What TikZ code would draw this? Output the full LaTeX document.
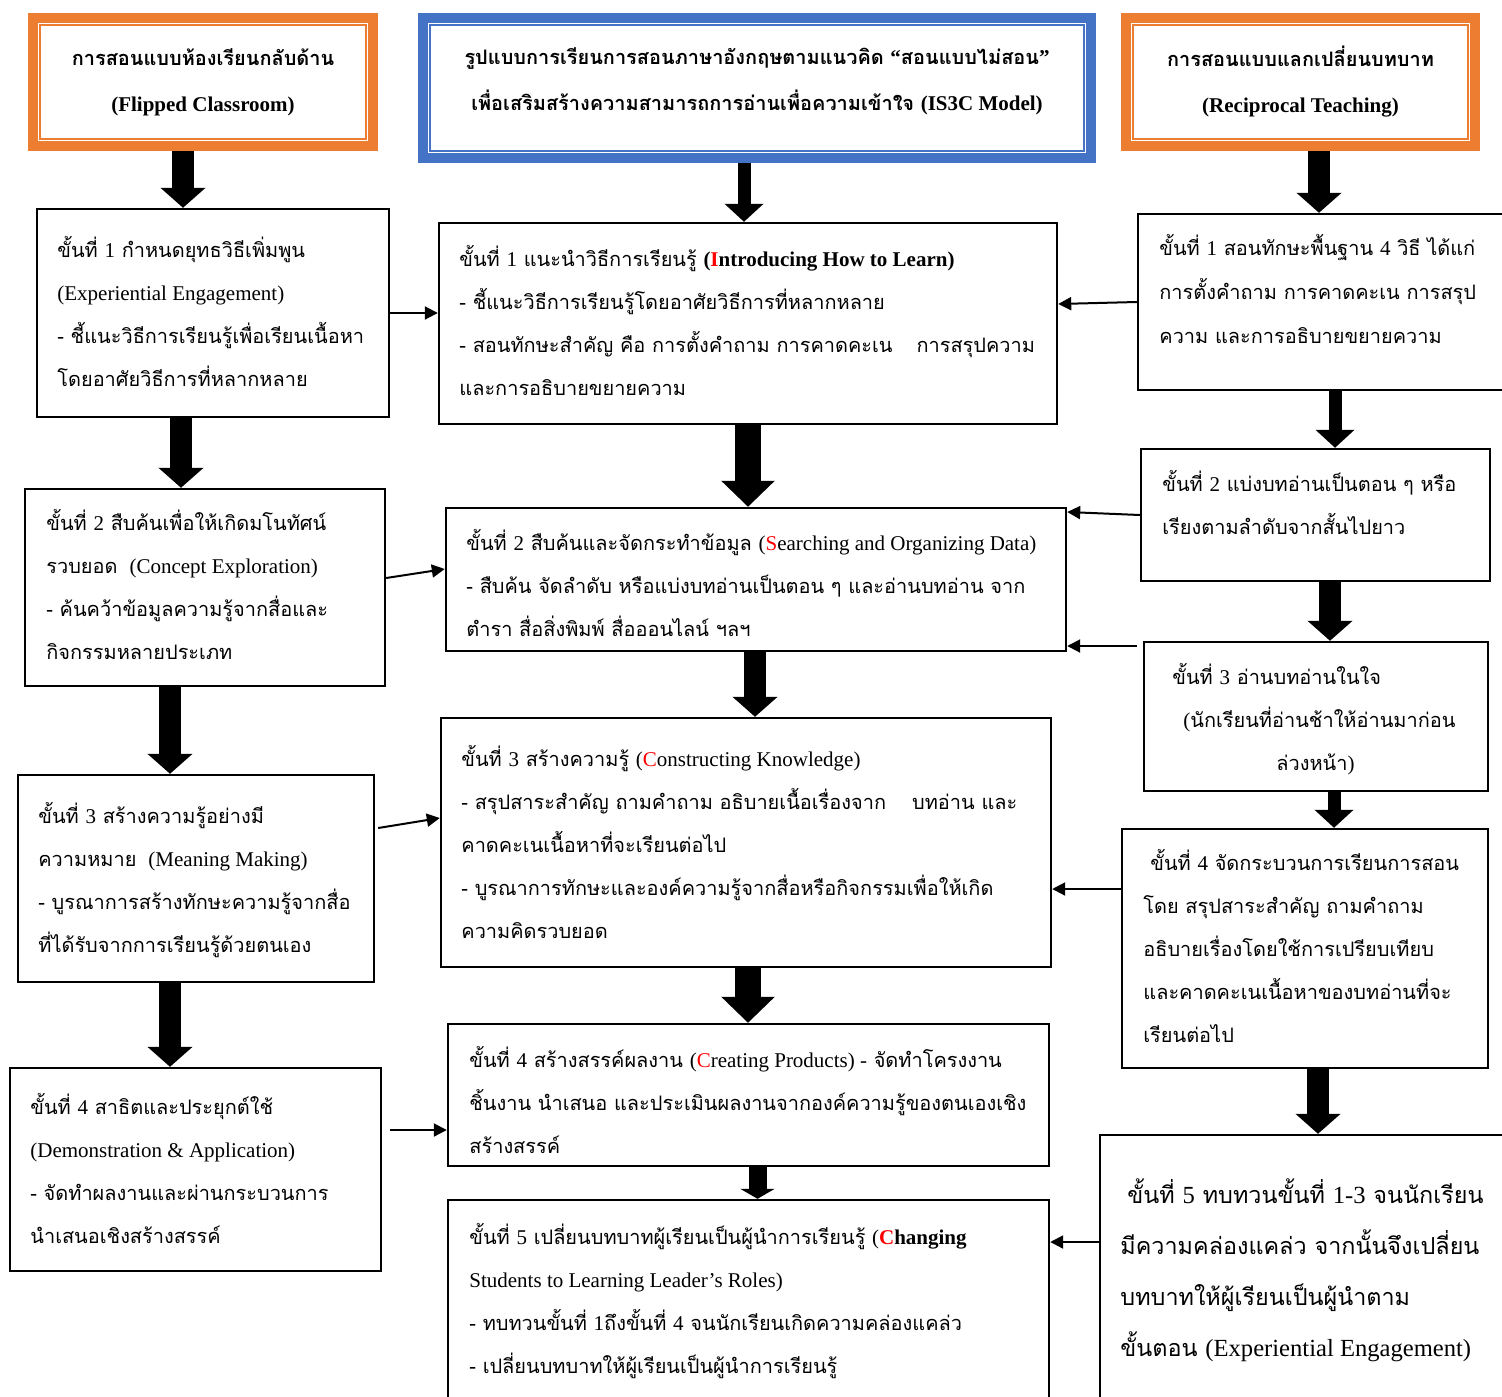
\documentclass[tikz,border=0pt]{standalone}
\usepackage{fontspec}
\setmainfont{Liberation Serif}
\newfontfamily\thaifont[Script=Thai,Scale=0.95]{Loma}
\usetikzlibrary{positioning}
\usetikzlibrary{arrows.meta}
\usepackage{xcolor}
\definecolor{hdorange}{HTML}{ED7D31}
\definecolor{hdblue}{HTML}{4472C4}
\newcommand{\en}[1]{{\rmfamily #1}}
\newcommand{\rd}[1]{\textcolor{red}{#1}}

\begin{document}
\begin{tikzpicture}[x=0.5pt, y=-0.5pt,
  hdbox/.style = {draw=#1, line width=5pt, fill=white, inner sep=0pt, align=center,
    font=\thaifont\bfseries\fontsize{10.5}{23}\selectfont,
    path picture={\draw[#1, line width=1pt] ([shift={(3.5pt,-3.5pt)}]path picture bounding box.north west) rectangle ([shift={(-3.5pt,3.5pt)}]path picture bounding box.south east);}},
  hdtxt/.style = {inner sep=0pt, align=center, font=\thaifont\bfseries\fontsize{10.5}{23}\selectfont},
  box/.style = {draw, line width=1.2pt, fill=white, inner sep=0pt},
  txt/.style = {anchor=base west, inner sep=0pt, align=left, font=\thaifont\fontsize{10.5}{21.5}\selectfont},
  bigtxt/.style = {txt, font=\thaifont\fontsize{12.3}{25.5}\selectfont},
  arr/.style = {line width=1pt, -{Triangle[length=6.5pt, width=6.5pt]}},
  blk/.style = {line width=11pt, -{Triangle[length=10pt, width=22pt]}},
  blkw/.style = {line width=13pt, -{Triangle[length=13pt, width=26pt]}},
  blkn/.style = {line width=6.5pt, -{Triangle[length=9pt, width=19pt]}},
  blks/.style = {line width=9pt, -{Triangle[length=5pt, width=17pt]}}]
\useasboundingbox (0,0) rectangle (1502,1396);

% headers
\node[hdbox=hdorange, minimum width=170pt, minimum height=64pt] (hl) at (203,82) {การสอนแบบห้องเรียนกลับด้าน\\\en{(Flipped Classroom)}};
\node[hdbox=hdblue, minimum width=334pt, minimum height=70pt] (hm) at (757,88) {};
\node[hdtxt] (hmt) at (757,81) {รูปแบบการเรียนการสอนภาษาอังกฤษตามแนวคิด \en{“}สอนแบบไม่สอน\en{”}\\เพื่อเสริมสร้างความสามารถการอ่านเพื่อความเข้าใจ \en{(IS3C Model)}};
\node[hdbox=hdorange, minimum width=174.5pt, minimum height=64pt] (hr) at (1300.5,82) {การสอนแบบแลกเปลี่ยนบทบาท\\\en{(Reciprocal Teaching)}};

% left column
\node[box, minimum width=176pt, minimum height=104pt] (l1) at (213,313) {};
\node[box, minimum width=180pt, minimum height=98.5pt] (l2) at (205,587.5) {};
\node[box, minimum width=178pt, minimum height=103.5pt] (l3) at (196,878.5) {};
\node[box, minimum width=185.5pt, minimum height=101.5pt] (l4) at (195.5,1169.5) {};
\node[txt] (l1t) at (57,386) {ขั้นที่ \en{1} กำหนดยุทธวิธีเพิ่มพูน\\\en{(Experiential Engagement)}\\- ชี้แนะวิธีการเรียนรู้เพื่อเรียนเนื้อหา\\โดยอาศัยวิธีการที่หลากหลาย};
\node[txt] (l2t) at (46,659) {ขั้นที่ \en{2} สืบค้นเพื่อให้เกิดมโนทัศน์\\รวบยอด \en{ (Concept Exploration)}\\- ค้นคว้าข้อมูลความรู้จากสื่อและ\\กิจกรรมหลายประเภท};
\node[txt] (l3t) at (38,952) {ขั้นที่ \en{3} สร้างความรู้อย่างมี\\ความหมาย \en{ (Meaning Making)}\\- บูรณาการสร้างทักษะความรู้จากสื่อ\\ที่ได้รับจากการเรียนรู้ด้วยตนเอง};
\node[txt] (l4t) at (30,1243) {ขั้นที่ \en{4} สาธิตและประยุกต์ใช้\\\en{(Demonstration \& Application)}\\- จัดทำผลงานและผ่านกระบวนการ\\นำเสนอเชิงสร้างสรรค์};

% middle column
\node[box, minimum width=309pt, minimum height=100.5pt] (m1) at (748,323.5) {};
\node[box, minimum width=310pt, minimum height=71.5pt] (m2) at (756,579.5) {};
\node[box, minimum width=305pt, minimum height=124.5pt] (m3) at (746,842.5) {};
\node[box, minimum width=300.5pt, minimum height=71pt] (m4) at (748.5,1095) {};
\node[box, minimum width=300.5pt, minimum height=120pt] (m5) at (748.5,1320) {};
\node[txt] (m1t) at (459,395) {ขั้นที่ \en{1} แนะนำวิธีการเรียนรู้ \en{\bfseries (\rd{I}ntroducing How to Learn)}\\- ชี้แนะวิธีการเรียนรู้โดยอาศัยวิธีการที่หลากหลาย\\- สอนทักษะสำคัญ คือ การตั้งคำถาม การคาดคะเน\hspace{12pt}การสรุปความ\\และการอธิบายขยายความ};
\node[txt] (m2t) at (466,636) {ขั้นที่ \en{2} สืบค้นและจัดกระทำข้อมูล \en{(\rd{S}earching and Organizing Data)}\\- สืบค้น จัดลำดับ หรือแบ่งบทอ่านเป็นตอน ๆ และอ่านบทอ่าน จาก\\ตำรา สื่อสิ่งพิมพ์ สื่อออนไลน์ ฯลฯ};
\node[txt] (m3t) at (461,938) {ขั้นที่ \en{3} สร้างความรู้ \en{(\rd{C}onstructing Knowledge)}\\- สรุปสาระสำคัญ ถามคำถาม อธิบายเนื้อเรื่องจาก\hspace{13pt}บทอ่าน และ\\คาดคะเนเนื้อหาที่จะเรียนต่อไป\\- บูรณาการทักษะและองค์ความรู้จากสื่อหรือกิจกรรมเพื่อให้เกิด\\ความคิดรวบยอด};
\node[txt] (m4t) at (469,1153) {ขั้นที่ \en{4} สร้างสรรค์ผลงาน \en{(\rd{C}reating Products) -} จัดทำโครงงาน\\ชิ้นงาน นำเสนอ และประเมินผลงานจากองค์ความรู้ของตนเองเชิง\\สร้างสรรค์};
\node[txt] (m5t) at (469,1373) {ขั้นที่ \en{5} เปลี่ยนบทบาทผู้เรียนเป็นผู้นำการเรียนรู้ \en{(\textbf{\rd{C}hanging}}\\\en{Students to Learning Leader’s Roles)}\\- ทบทวนขั้นที่ \en{1}ถึงขั้นที่ \en{4} จนนักเรียนเกิดความคล่องแคล่ว\\- เปลี่ยนบทบาทให้ผู้เรียนเป็นผู้นำการเรียนรู้};

% right column
\node[box, minimum width=196pt, minimum height=88pt] (r1) at (1334,302) {};
\node[box, minimum width=174.5pt, minimum height=66pt] (r2) at (1315.5,515) {};
\node[box, minimum width=172pt, minimum height=74.5pt] (r3) at (1316,716.5) {};
\node[box, minimum width=183pt, minimum height=119.5pt] (r4) at (1305,948.5) {};
\node[box, minimum width=220pt, minimum height=152.5pt] (r5) at (1320,1287.5) {};
\node[txt, font=\thaifont\fontsize{10.5}{22}\selectfont] (r1t) at (1159,343) {ขั้นที่ \en{1} สอนทักษะพื้นฐาน \en{4} วิธี ได้แก่\\การตั้งคำถาม การคาดคะเน การสรุป\\ความ และการอธิบายขยายความ};
\node[txt] (r2t) at (1162,534) {ขั้นที่ \en{2} แบ่งบทอ่านเป็นตอน ๆ หรือ\\เรียงตามลำดับจากสั้นไปยาว};
\node[txt] (r3t) at (1172,770) {ขั้นที่ \en{3} อ่านบทอ่านในใจ\\\hspace*{5.5pt}\en{(}นักเรียนที่อ่านช้าให้อ่านมาก่อน\\\hspace*{52pt}ล่วงหน้า\en{)}};
\node[txt] (r4t) at (1143,1042) {\hspace*{3.5pt}ขั้นที่ \en{4} จัดกระบวนการเรียนการสอน\\โดย สรุปสาระสำคัญ ถามคำถาม\\อธิบายเรื่องโดยใช้การเปรียบเทียบ\\และคาดคะเนเนื้อหาของบทอ่านที่จะ\\เรียนต่อไป};
\node[bigtxt] (r5t) at (1120,1356) {\hspace*{3.5pt}ขั้นที่ \en{5} ทบทวนขั้นที่ \en{1-3} จนนักเรียน\\มีความคล่องแคล่ว จากนั้นจึงเปลี่ยน\\บทบาทให้ผู้เรียนเป็นผู้นำตาม\\ขั้นตอน \en{(Experiential Engagement)}};

% block arrows down the columns
\draw[blk] ([xshift=-10pt]hl.south) -- ([xshift=-15pt]l1.north);
\draw[blk] ([xshift=-16pt]l1.south) -- ([xshift=-12pt]l2.north);
\draw[blk] ([xshift=-17.5pt]l2.south) -- ([xshift=-13pt]l3.north);
\draw[blk] ([xshift=-13pt]l3.south) -- ([xshift=-12.75pt]l4.north);
\draw[blkn] ([xshift=-6.5pt]hm.south) -- ([xshift=-2pt]m1.north);
\draw[blkw] (m1.south) -- ([xshift=-4pt]m2.north);
\draw[blk] ([xshift=-0.5pt]m2.south) -- ([xshift=4.5pt]m3.north);
\draw[blkw] ([xshift=1pt]m3.south) -- ([xshift=-0.25pt]m4.north);
\draw[blks] ([xshift=4.5pt]m4.south) -- ([xshift=4.5pt]m5.north);
\draw[blk] ([xshift=9.25pt]hr.south) -- ([xshift=-7.5pt]r1.north);
\draw[blkn] ([xshift=0.5pt]r1.south) -- ([xshift=9.75pt]r2.north);
\draw[blk] ([xshift=7.25pt]r2.south) -- ([xshift=7pt]r3.north);
\draw[blkn] ([xshift=9pt]r3.south) -- ([xshift=14.5pt]r4.north);
\draw[blk] ([xshift=6.5pt]r4.south) -- ([xshift=-1pt]r5.north);

% thin arrows into the middle column
\draw[arr] (l1.east) -- (l1.east -| m1.west);
\draw[arr] ([yshift=4.75pt]l2.east) -- ([yshift=5.25pt]m2.west);
\draw[arr] ([xshift=1.5pt,yshift=25.25pt]l3.east) -- ([yshift=12.25pt]m3.west);
\draw[arr] ([xshift=4pt,yshift=19.75pt]l4.east) -- ([yshift=-17.5pt]m4.west);
\draw[arr] (r1.west) -- ([yshift=9.75pt]m1.east);
\draw[arr] (r2.west) -- ([yshift=33.75pt]m2.east);
\draw[arr] ([xshift=-3pt,yshift=35.25pt]r3.west) -- ([yshift=-33.25pt]m2.east);
\draw[arr] ([yshift=29.75pt]r4.west) -- ([yshift=-23.25pt]m3.east);
\draw[arr] ([yshift=22.75pt]r5.west) -- ([yshift=39pt]m5.east);
\end{tikzpicture}
\end{document}
